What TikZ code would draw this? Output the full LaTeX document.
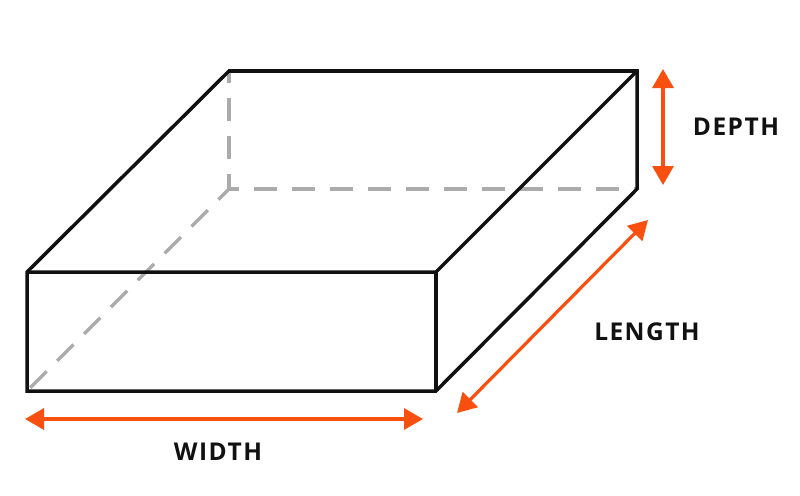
\documentclass[tikz,border=0pt]{standalone}
\usepackage{fontspec}
\setmainfont{Open Sans}
\usepackage{tikz}
\usetikzlibrary{arrows.meta}
\definecolor{medida}{HTML}{F9500F}
\definecolor{oculto}{HTML}{ABABAB}
\definecolor{borde}{HTML}{111111}

\begin{document}
\begin{tikzpicture}[x=1pt, y=-1pt, line width=3.5pt, draw=borde]
	\tikzset{solid edge/.style={draw=borde, line width=3.5pt, line join=miter}}
	\tikzset{hidden edge/.style={draw=oculto, line width=3.5pt, dash pattern=on 23pt off 15pt}}
	\tikzset{measure/.style={draw=medida, line width=3.2pt, {Triangle[length=19pt,width=21pt]}-{Triangle[length=19pt,width=21pt]}}}
	\tikzstyle{label}=[text=borde, inner sep=0pt, font=\fontsize{24.5}{26}\selectfont\bfseries\addfontfeatures{LetterSpace=6}]

	\useasboundingbox (0,0) rectangle (800,495);

	%VERTICES
	\coordinate (backTL) at (229,71);
	\coordinate (backTR) at (637,71);
	\coordinate (backBL) at (229,189);
	\coordinate (backBR) at (637,189);
	\coordinate (frontTL) at (27,272);
	\coordinate (frontTR) at (436,272);
	\coordinate (frontBL) at (27,391);
	\coordinate (frontBR) at (436,391);

	%EXTREMOS
	\coordinate (depthA) at (663,69);
	\coordinate (depthB) at (663,185);
	\coordinate (lengthA) at (648,220);
	\coordinate (lengthB) at (457,413);
	\coordinate (widthA) at (25,419);
	\coordinate (widthB) at (423,419);

	%OCULTAS
	\draw [hidden edge, dash phase=8pt] (backBL) -- (backTL);
	\draw [hidden edge, dash phase=13pt] (backBL) -- (backBR);
	\draw [hidden edge, dash phase=8pt] (backBL) -- (frontBL);

	%CARAS
	\draw [solid edge] (frontTL) -- (backTL) -- (backTR) -- (backBR) -- (frontBR) -- (frontBL) -- cycle;
	\draw [solid edge] (frontTL) -- (frontTR) -- (backTR);
	\draw [solid edge] (frontTR) -- (frontBR);

	%MEDIDAS
	\draw [measure] (depthA) -- (depthB);
	\draw [measure] (lengthA) -- (lengthB);
	\draw [measure] (widthA) -- (widthB);

	%ETIQUETAS
	\node [label] (depth) at (736,127) {DEPTH};
	\node [label] (length) at (647,332) {LENGTH};
	\node [label] (width) at (218,452) {WIDTH};
\end{tikzpicture}
\end{document}
